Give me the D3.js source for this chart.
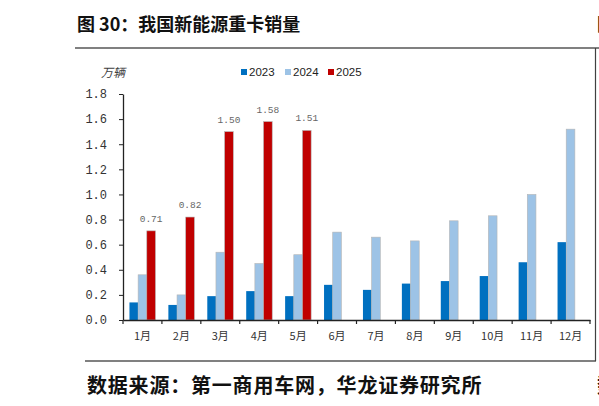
<!DOCTYPE html>
<html>
<head>
<meta charset="utf-8">
<script src="https://cdn.jsdelivr.net/npm/d3@7.9.0/dist/d3.min.js"></script>
<style>
  body { margin: 0; background: #fff; }
  svg { display: block; }
</style>
</head>
<body>
<svg id="chart" width="599" height="406"></svg>
<script>
// data
const months = ["1月", "2月", "3月", "4月", "5月", "6月", "7月", "8月", "9月", "10月", "11月", "12月"];
const years = ["2023", "2024", "2025"];
const sales2023 = [0.14, 0.12, 0.19, 0.23, 0.19, 0.28, 0.24, 0.29, 0.31, 0.35, 0.46, 0.62];
const sales2024 = [0.36, 0.20, 0.54, 0.45, 0.52, 0.70, 0.66, 0.63, 0.79, 0.83, 1.00, 1.52];
const sales2025 = [0.71, 0.82, 1.50, 1.58, 1.51];
const yTicks = [0, 0.2, 0.4, 0.6, 0.8, 1.0, 1.2, 1.4, 1.6, 1.8];

const colors = { "2023": "#0070C0", "2024": "#9DC3E6", "2025": "#C00000" };
const seriesByYear = { "2023": sales2023, "2024": sales2024, "2025": sales2025 };

const svg = d3.select("#chart");
const cjk = "'Noto Sans CJK SC', 'Noto Sans', sans-serif";
const mono = "'Liberation Mono', 'DejaVu Sans Mono', monospace";

// frame lines
svg.append("line").attr("x1", 75).attr("x2", 599).attr("y1", 48).attr("y2", 48)
    .attr("stroke", "#808080").attr("stroke-width", 2);
svg.append("line").attr("x1", 85).attr("x2", 596).attr("y1", 361).attr("y2", 361)
    .attr("stroke", "#808080").attr("stroke-width", 2);
svg.append("line").attr("x1", 595.5).attr("x2", 595.5).attr("y1", 48).attr("y2", 361)
    .attr("stroke", "#404040").attr("stroke-width", 1.2);

// title and source
svg.append("text").attr("x", 77).attr("y", 31)
    .style("font-family", cjk).style("font-weight", 700).style("font-size", "18px")
    .attr("fill", "#111").text("图 30：我国新能源重卡销量");
svg.append("text").attr("x", 87).attr("y", 393)
    .style("font-family", cjk).style("font-weight", 700).style("font-size", "20px")
    .style("letter-spacing", "0.8px")
    .attr("fill", "#111").text("数据来源：第一商用车网，华龙证券研究所");
// cut-off text of the next column
svg.append("text").attr("x", 597).attr("y", 31)
    .style("font-family", cjk).style("font-weight", 700).style("font-size", "18px")
    .attr("fill", "#111").text("图");
svg.append("text").attr("x", 597).attr("y", 393)
    .style("font-family", cjk).style("font-weight", 700).style("font-size", "20px")
    .attr("fill", "#111").text("数");

// scales
const x0 = d3.scaleBand().domain(months).range([123, 590]).padding(0);
const groupW = 26;
const x1 = d3.scaleBand().domain(years)
    .range([(x0.bandwidth() - groupW) / 2, (x0.bandwidth() + groupW) / 2]);
const y = d3.scaleLinear().domain([0, 1.8]).range([320, 94]);

// unit label
svg.append("text").attr("x", 101).attr("y", 77)
    .style("font-family", cjk).style("font-size", "12px").style("font-style", "italic")
    .attr("fill", "#404040").text("万辆");

// bars
const g = svg.append("g");
years.forEach(yr => {
    const vals = seriesByYear[yr];
    g.selectAll(`.bar-${yr}`)
        .data(vals.map((v, i) => ({ month: months[i], value: v })))
        .enter()
        .append("rect")
        .attr("class", `bar-${yr}`)
        .attr("x", d => x0(d.month) + x1(yr))
        .attr("y", d => y(d.value))
        .attr("width", x1.bandwidth())
        .attr("height", d => y(0) - y(d.value))
        .attr("fill", colors[yr])
        .attr("stroke", yr === "2023" ? "none" : "#b5b5b5")
        .attr("stroke-width", 0.6);
});

// 2025 value labels
g.selectAll(".lbl")
    .data(sales2025.map((v, i) => ({ month: months[i], value: v })))
    .enter()
    .append("text")
    .attr("class", "lbl")
    .attr("x", d => x0(d.month) + x1("2025") + x1.bandwidth() / 2)
    .attr("y", d => y(d.value) - 9)
    .attr("text-anchor", "middle")
    .style("font-family", mono).style("font-size", "9.5px")
    .attr("fill", "#666")
    .text(d => d.value.toFixed(2));

// y axis
const yAxis = svg.append("g")
    .attr("transform", "translate(123,0)")
    .call(d3.axisLeft(y).tickValues(yTicks).tickFormat(d3.format(".1f")).tickSize(4).tickSizeOuter(0).tickPadding(12));
yAxis.select(".domain").attr("stroke", "#222").attr("stroke-width", 1.3);
yAxis.selectAll(".tick line").attr("stroke", "#222");
yAxis.selectAll(".tick text")
    .style("font-family", mono).style("font-size", "12px").attr("fill", "#333");

// x axis
const xAxis = svg.append("g")
    .attr("transform", "translate(0,320)")
    .call(d3.axisBottom(x0).tickSize(0).tickPadding(12));
xAxis.select(".domain").attr("stroke", "#222").attr("stroke-width", 1.3);
xAxis.selectAll(".tick text")
    .style("font-family", cjk).style("font-size", "11px").attr("fill", "#333");
// category boundary ticks
xAxis.selectAll(".sep")
    .data(months.concat(["end"]))
    .enter()
    .append("line")
    .attr("class", "sep")
    .attr("x1", (d, i) => i < months.length ? x0(d) : x0(months[months.length - 1]) + x0.bandwidth())
    .attr("x2", (d, i) => i < months.length ? x0(d) : x0(months[months.length - 1]) + x0.bandwidth())
    .attr("y1", 0).attr("y2", 4)
    .attr("stroke", "#222").attr("stroke-width", 1.2);

// legend
const legend = svg.append("g").attr("transform", "translate(241,0)");
const legendX = [0, 44, 87];
years.forEach((yr, i) => {
    legend.append("rect").attr("x", legendX[i]).attr("y", 69).attr("width", 6).attr("height", 6)
        .attr("fill", colors[yr]);
    legend.append("text").attr("x", legendX[i] + 8).attr("y", 76)
        .style("font-family", "'Liberation Sans', Arial, sans-serif").style("font-size", "11.5px")
        .attr("fill", "#222").text(yr);
});
</script>
</body>
</html>
